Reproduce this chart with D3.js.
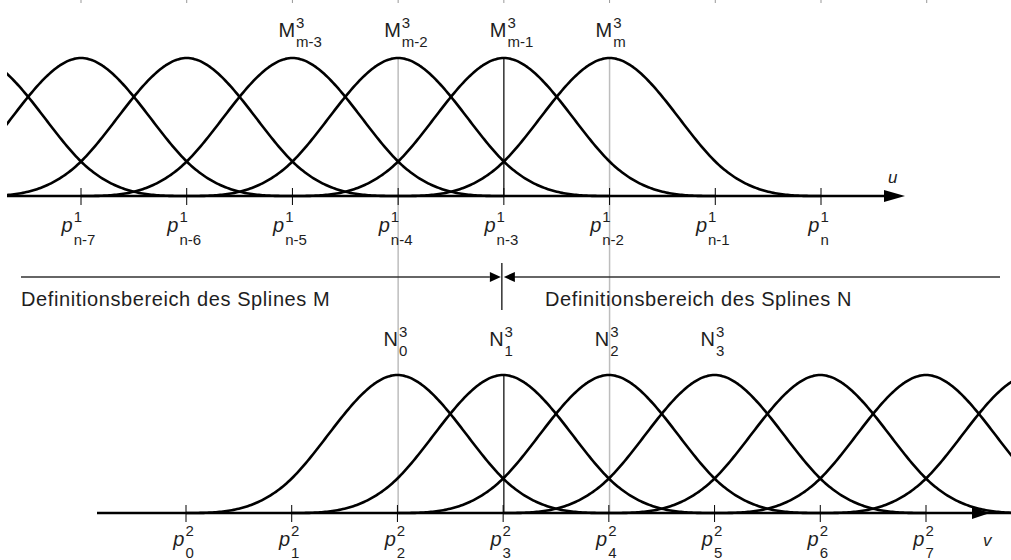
<!DOCTYPE html>
<html>
<head>
<meta charset="utf-8">
<script src="https://cdn.jsdelivr.net/npm/d3@7"></script>
<style>
  html, body { margin: 0; padding: 0; background: #fff; }
  svg { display: block; }
  text { font-family: "Liberation Sans", Arial, sans-serif; fill: #1e1e1e; }
</style>
</head>
<body>
<svg id="chart" width="1011" height="560"></svg>
<script>
// ---- Spline M (parameter u): knot indices and their labels ----
const uKnotIndex = [0, 1, 2, 3, 4, 5, 6, 7];
const uKnotLabels = ["n-7", "n-6", "n-5", "n-4", "n-3", "n-2", "n-1", "n"];
// centre knot of every cubic basis function M drawn
const mCentres = [-1, 0, 1, 2, 3, 4, 5];
const mNames = [null, null, null, "m-3", "m-2", "m-1", "m"];

// ---- Spline N (parameter v) ----
const vKnotIndex = [0, 1, 2, 3, 4, 5, 6, 7];
const vKnotLabels = ["0", "1", "2", "3", "4", "5", "6", "7"];
const nCentres = [2, 3, 4, 5, 6, 7, 8];
const nNames = ["0", "1", "2", "3", null, null, null];

const degree = 3;
const uSuper = "1", vSuper = "2", basisSuper = "3";

// ---- layout ----
const W = 1011, H = 560;
const topAxisY = 196, botAxisY = 513;
const svg = d3.select("#chart");

const xU = d3.scaleLinear().domain([0, 7]).range([81, 821]);
const xV = d3.scaleLinear().domain([0, 7]).range([186, 926]);
const yU = d3.scaleLinear().domain([0, 2 / 3]).range([topAxisY, 58]);
const yV = d3.scaleLinear().domain([0, 2 / 3]).range([botAxisY, 375]);

// Cox–de Boor recursion on uniform integer knots
function bspline(j, k, t) {
  if (k === 0) return (t >= j && t < j + 1) ? 1 : 0;
  return (t - j) / k * bspline(j, k - 1, t) + (j + k + 1 - t) / k * bspline(j + 1, k - 1, t);
}
function basisPoints(centre) {
  const start = centre - (degree + 1) / 2;
  const pts = [];
  const n = 240;
  for (let s = 0; s <= n; s++) {
    const t = start + (degree + 1) * s / n;
    pts.push([t, s === n ? 0 : bspline(start, degree, t)]);
  }
  return pts;
}

const defs = svg.append("defs");
defs.append("clipPath").attr("id", "clipTop")
  .append("rect").attr("x", 7).attr("y", 0).attr("width", W).attr("height", H);

// guide lines through the joint region
const guideGrey = "#bdbdbd";
[3, 5].forEach(k => {
  svg.append("line")
    .attr("x1", xU(k)).attr("x2", xU(k))
    .attr("y1", yU(2 / 3)).attr("y2", botAxisY)
    .attr("stroke", guideGrey).attr("stroke-width", 1.5);
});
const jointX = xU(4);
[[yU(2 / 3), topAxisY], [263, 310], [yV(2 / 3), botAxisY]].forEach(([a, b], i) => {
  svg.append("line")
    .attr("x1", i === 1 ? jointX - 2 : jointX).attr("x2", i === 1 ? jointX - 2 : jointX)
    .attr("y1", a).attr("y2", b)
    .attr("stroke", "#111").attr("stroke-width", 1.3);
});

// ---- axes ----
function arrowHead(g, tipX, y, dir, len, half) {
  g.append("path")
    .attr("d", `M${tipX},${y} L${tipX - dir * len},${y - half} L${tipX - dir * len},${y + half} Z`)
    .attr("fill", "#000");
}
svg.append("line").attr("x1", 7).attr("x2", 895).attr("y1", topAxisY).attr("y2", topAxisY)
  .attr("stroke", "#000").attr("stroke-width", 2.6);
arrowHead(svg, 905, topAxisY, 1, 21, 6);
svg.append("line").attr("x1", 97).attr("x2", W).attr("y1", botAxisY).attr("y2", botAxisY)
  .attr("stroke", "#000").attr("stroke-width", 2.6);
arrowHead(svg, 990, botAxisY, 1, 18, 6);

uKnotIndex.forEach(k => {
  svg.append("line").attr("x1", xU(k)).attr("x2", xU(k))
    .attr("y1", topAxisY - 8).attr("y2", topAxisY + 9)
    .attr("stroke", "#000").attr("stroke-width", 1);
});
vKnotIndex.forEach(k => {
  svg.append("line").attr("x1", xV(k)).attr("x2", xV(k))
    .attr("y1", botAxisY - 8).attr("y2", botAxisY + 9)
    .attr("stroke", "#000").attr("stroke-width", 1);
});

// ---- basis curves ----
const lineU = d3.line().x(d => xU(d[0])).y(d => yU(d[1]));
const lineV = d3.line().x(d => xV(d[0])).y(d => yV(d[1]));
svg.append("g").attr("clip-path", "url(#clipTop)")
  .selectAll("path").data(mCentres).join("path")
  .attr("d", c => lineU(basisPoints(c)))
  .attr("fill", "none").attr("stroke", "#000").attr("stroke-width", 2.6)
  .attr("stroke-linejoin", "round");
svg.append("g")
  .selectAll("path").data(nCentres).join("path")
  .attr("d", c => lineV(basisPoints(c)))
  .attr("fill", "none").attr("stroke", "#000").attr("stroke-width", 2.6)
  .attr("stroke-linejoin", "round");

// ---- labels with super/subscripts ----
function indexed(g, x, y, base, sup, sub, opt) {
  const t = g.append("text").attr("x", x).attr("y", y)
    .style("font-size", opt.size + "px").style("font-style", opt.italic ? "italic" : "normal")
    .text(base);
  const bw = t.node().getComputedTextLength();
  const x2 = x + bw + (opt.gap || 1);
  g.append("text").attr("x", x2).attr("y", y + opt.supDy)
    .style("font-size", opt.small + "px").text(sup);
  g.append("text").attr("x", x2).attr("y", y + opt.subDy)
    .style("font-size", opt.small + "px").text(sub);
}
function measure(str, size, italic) {
  const t = svg.append("text").style("font-size", size + "px")
    .style("font-style", italic ? "italic" : "normal").text(str);
  const w = t.node().getComputedTextLength();
  t.remove();
  return w;
}
function knotLabel(x, y, sup, sub, subDy) {
  const pw = measure("p", 20, true);
  const iw = Math.max(measure(sup, 15), measure(sub, 15));
  const x0 = x - 3 - (pw + iw) / 2;
  indexed(svg, x0, y, "p", sup, sub, { size: 20, small: 15, italic: true, supDy: -10, subDy: subDy, gap: 0 });
}
uKnotIndex.forEach((k, i) => knotLabel(xU(k), 232, uSuper, uKnotLabels[i], 13));
vKnotIndex.forEach((k, i) => knotLabel(xV(k), 546, vSuper, vKnotLabels[i], 12));

mCentres.forEach((c, i) => {
  if (mNames[i] === null) return;
  indexed(svg, xU(c) - 14, 37, "M", basisSuper, mNames[i], { size: 20, small: 15, supDy: -9, subDy: 10 });
});
nCentres.forEach((c, i) => {
  if (nNames[i] === null) return;
  indexed(svg, xV(c) - 14, 346, "N", basisSuper, nNames[i], { size: 20, small: 15, supDy: -9, subDy: 10 });
});

svg.append("text").attr("x", 888).attr("y", 183).style("font-size", "17px").style("font-style", "italic").text("u");
svg.append("text").attr("x", 983).attr("y", 546).style("font-size", "17px").style("font-style", "italic").text("v");

// ---- domain arrows between the two splines ----
const midY = 277;
svg.append("line").attr("x1", 21).attr("x2", jointX - 14).attr("y1", midY).attr("y2", midY)
  .attr("stroke", "#333").attr("stroke-width", 1.5);
arrowHead(svg, jointX - 3, midY, 1, 11, 5);
svg.append("line").attr("x1", jointX + 10).attr("x2", 1000).attr("y1", midY).attr("y2", midY)
  .attr("stroke", "#333").attr("stroke-width", 1.5);
arrowHead(svg, jointX, midY, -1, 11, 5);

svg.append("text").attr("x", 21).attr("y", 306).style("font-size", "20px")
  .style("letter-spacing", "0.6px").text("Definitionsbereich des Splines M");
svg.append("text").attr("x", 545).attr("y", 306).style("font-size", "20px")
  .style("letter-spacing", "0.6px").text("Definitionsbereich des Splines N");

// small marks along the upper edge
d3.range(0, 9).forEach(k => {
  svg.append("line").attr("x1", xU(k)).attr("x2", xU(k)).attr("y1", 0).attr("y2", 3)
    .attr("stroke", "#999").attr("stroke-width", 1);
});
</script>
</body>
</html>
